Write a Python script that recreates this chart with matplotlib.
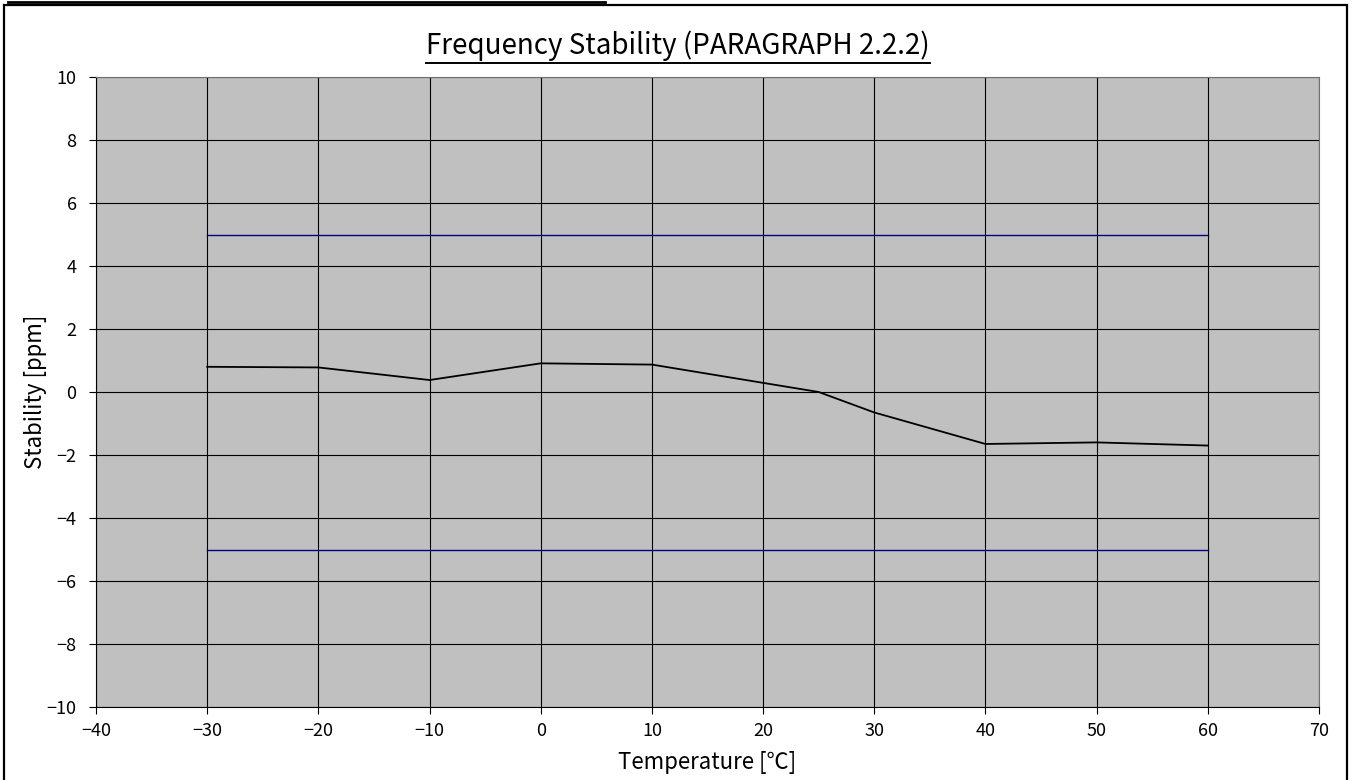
import matplotlib
matplotlib.use("Agg")
import matplotlib.pyplot as plt
from matplotlib.lines import Line2D
from matplotlib.patches import Rectangle

plt.rcParams['font.family'] = ['Noto Sans CJK JP', 'DejaVu Sans']
plt.rcParams['axes.unicode_minus'] = True

# measured stability vs temperature
temperature = [-30, -20, -10, 0, 10, 25, 30, 40, 50, 60]
stability = [0.80, 0.78, 0.38, 0.91, 0.87, 0.0, -0.65, -1.65, -1.60, -1.70]

# spec limits
limit_temp = [-30, 60]
upper_limit = [5, 5]
lower_limit = [-5, -5]

x_ticks = list(range(-40, 71, 10))
y_ticks = list(range(-10, 11, 2))

W, H = 1353, 780
fig = plt.figure(figsize=(W / 100, H / 100), dpi=100)
ax = fig.add_axes([96 / W, 1 - 707 / H, (1319 - 96) / W, (707 - 77) / H])
ax.set_facecolor('#C0C0C0')

ax.plot(limit_temp, upper_limit, color='#000080', lw=1.0, zorder=3)
ax.plot(limit_temp, lower_limit, color='#000080', lw=1.0, zorder=3)
ax.plot(temperature, stability, color='black', lw=1.3, zorder=4)

ax.set_xlim(-40, 70)
ax.set_ylim(-10, 10)
ax.set_xticks(x_ticks)
ax.set_yticks(y_ticks)
ax.grid(True, color='black', lw=0.8)
ax.set_axisbelow(True)
ax.tick_params(direction='out', length=5, width=0.8, labelsize=13)
ax.tick_params(axis='x', pad=6)
ax.tick_params(axis='y', pad=9)
for s in ['top', 'right']:
    ax.spines[s].set_color('#707070')
for s in ['left', 'bottom']:
    ax.spines[s].set_color('black')

ax.set_xlabel('Temperature [℃]', fontsize=16, labelpad=8)
ax.set_ylabel('Stability [ppm]', fontsize=16, labelpad=0)

# title with underline
title = fig.text(678 / W, 1 - 46 / H, 'Frequency Stability (PARAGRAPH 2.2.2)',
                 ha='center', va='center', fontsize=20)
fig.canvas.draw()
bb = title.get_window_extent().transformed(fig.transFigure.inverted())
fig.add_artist(Line2D([bb.x0, bb.x1], [bb.y0 - 0.002, bb.y0 - 0.002],
                      transform=fig.transFigure, color='black', lw=1.4))

# outer frame (bottom cut off by the page)
fig.add_artist(Rectangle((4 / W, -0.05), (1347 - 4) / W, 1.05 - 5 / H,
                         transform=fig.transFigure, fill=False,
                         edgecolor='black', lw=1.6))
# remnant of the table above
fig.add_artist(Line2D([8 / W, 605 / W], [1 - 1.5 / H, 1 - 1.5 / H],
                      transform=fig.transFigure, color='black', lw=2))

fig.savefig('out.png', dpi=100)
